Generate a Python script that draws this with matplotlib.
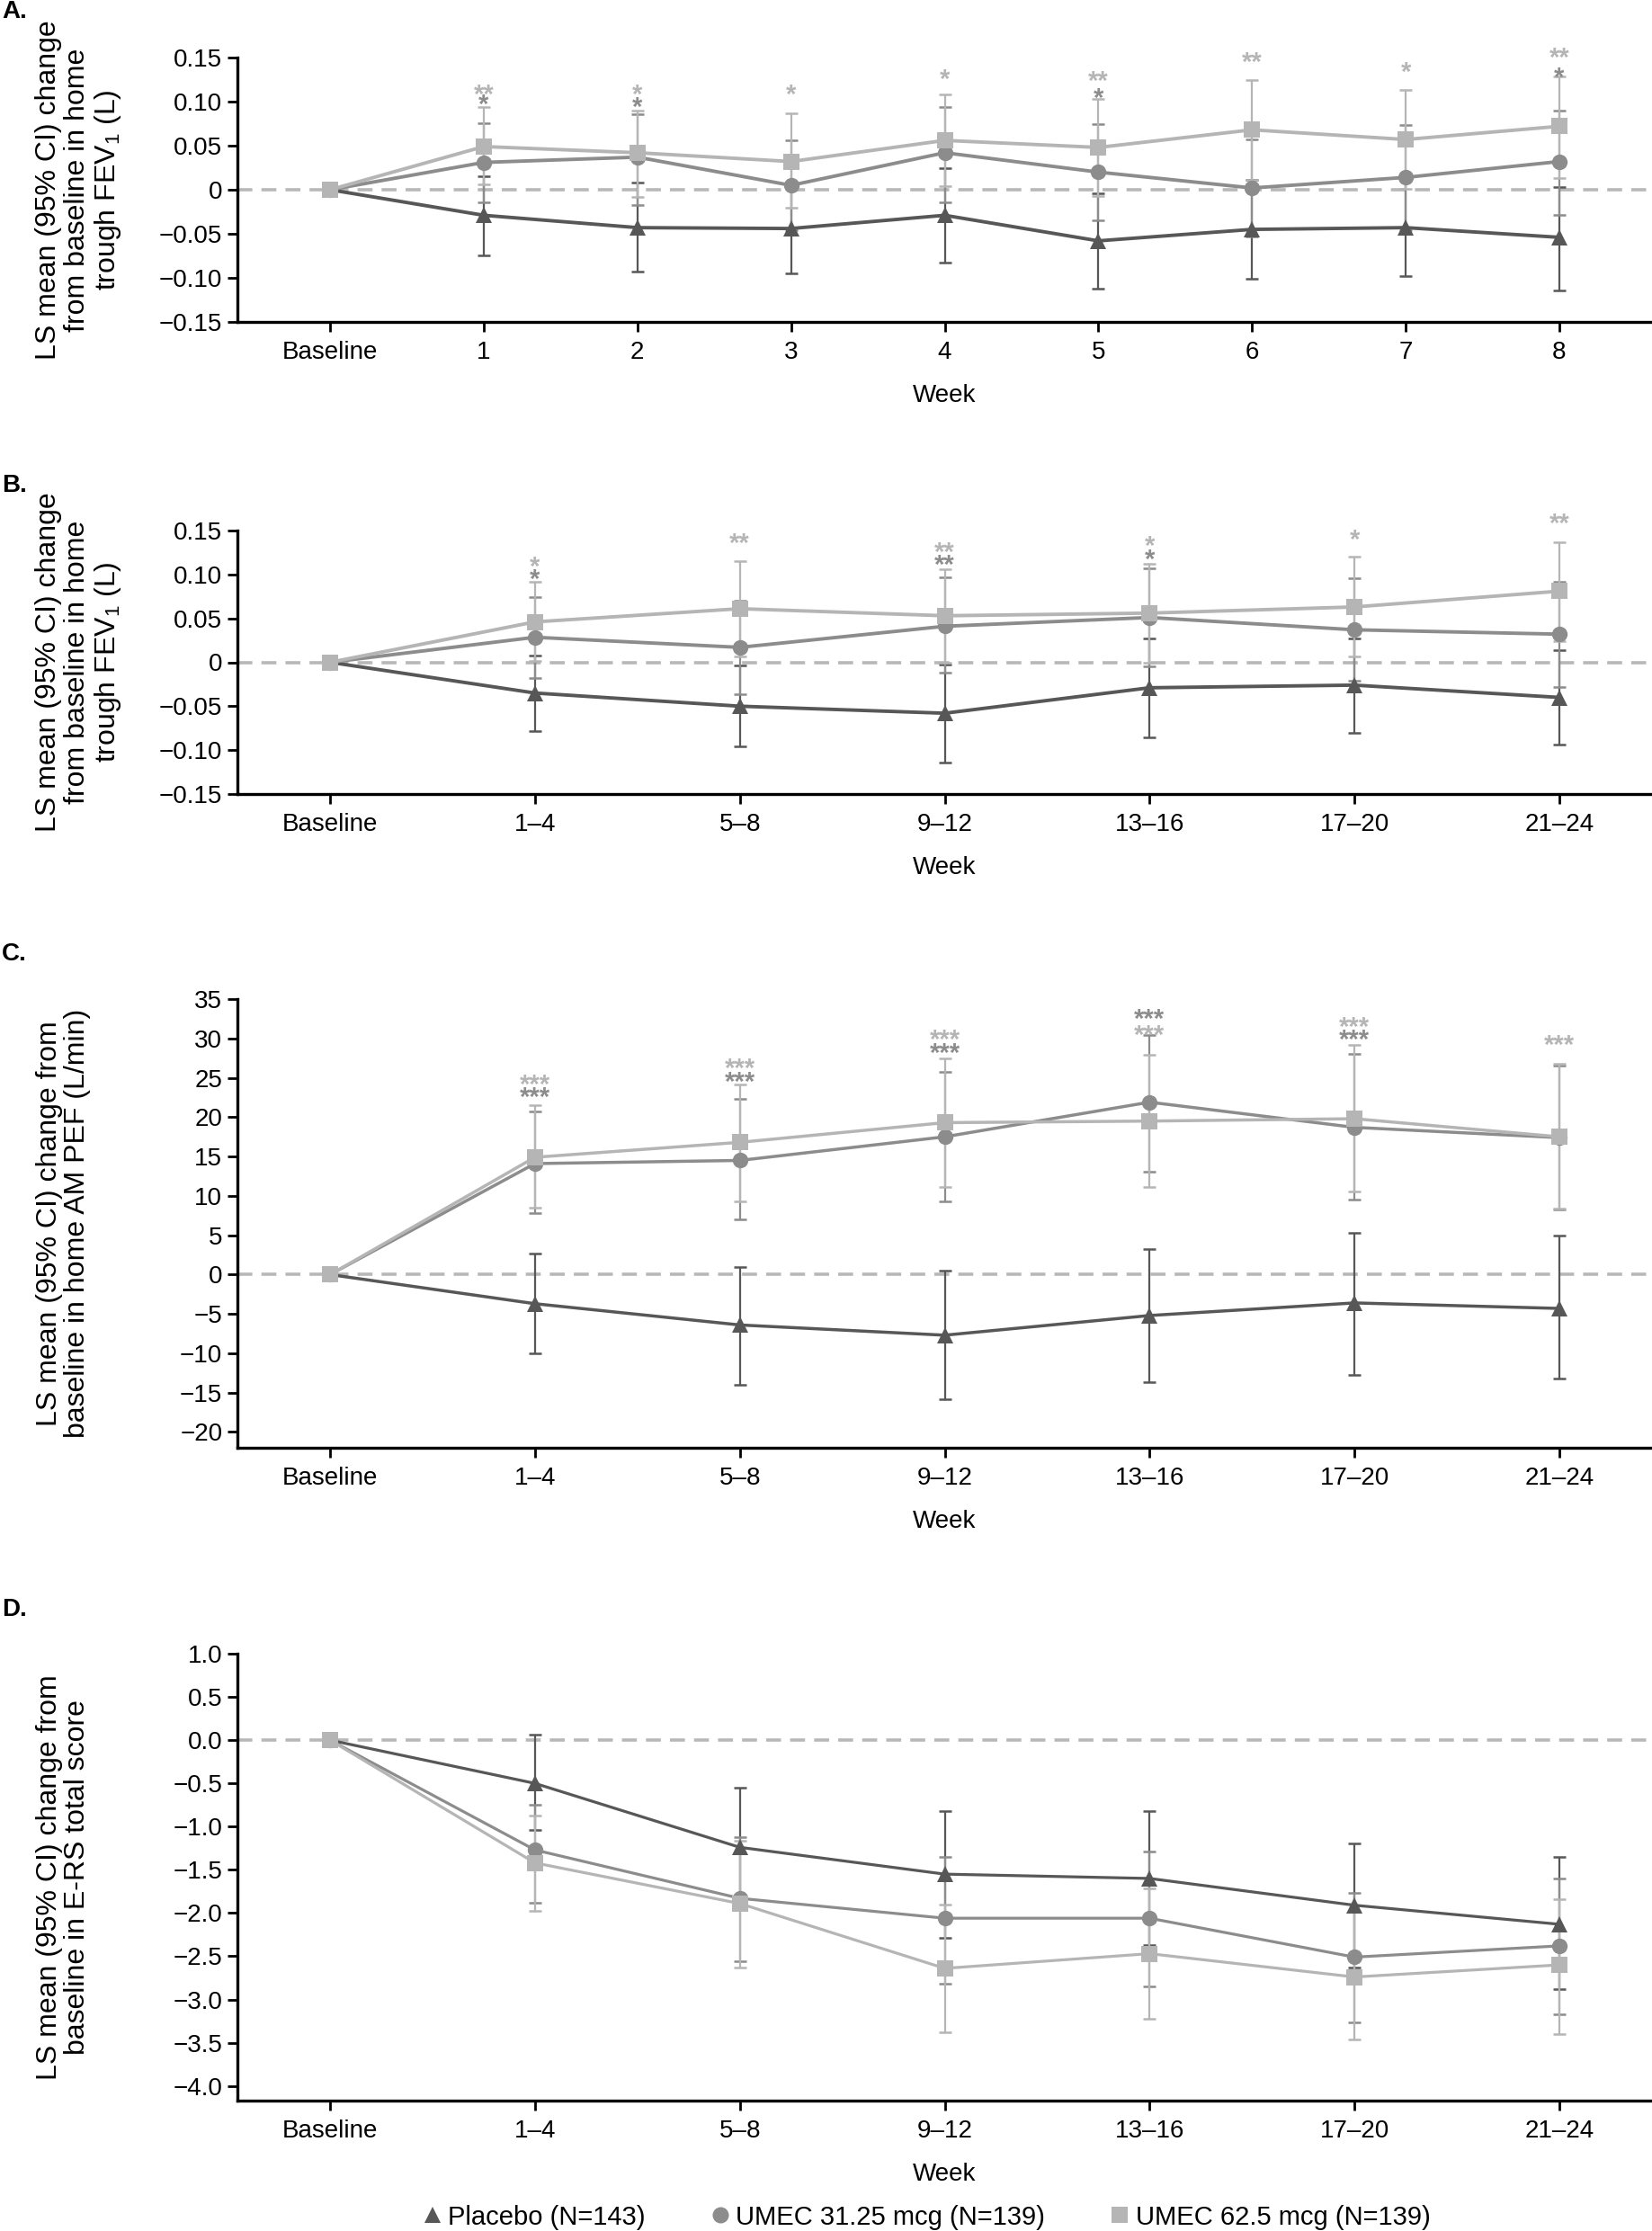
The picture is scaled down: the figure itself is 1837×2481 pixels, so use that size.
import numpy as np
import matplotlib
matplotlib.use("Agg")
import matplotlib.pyplot as plt
from matplotlib.lines import Line2D

plt.rcParams['font.family'] = ['Liberation Sans', 'DejaVu Sans']
plt.rcParams['mathtext.fontset'] = 'custom'
plt.rcParams['mathtext.rm'] = 'Liberation Sans'
plt.rcParams['mathtext.it'] = 'Liberation Sans:italic'
plt.rcParams['axes.unicode_minus'] = True

nan = np.nan

# ---------------- data ----------------
series_names = ["Placebo (N=143)", "UMEC 31.25 mcg (N=139)", "UMEC 62.5 mcg (N=139)"]

# Panel A: home trough FEV1 by week (L)
weeks_A = ["Baseline", "1", "2", "3", "4", "5", "6", "7", "8"]
A_pbo = [0, -0.029, -0.043, -0.044, -0.029, -0.058, -0.045, -0.043, -0.054]
A_pbo_lo = [nan, -0.074, -0.093, -0.095, -0.083, -0.112, -0.101, -0.098, -0.114]
A_pbo_hi = [nan, 0.015, 0.008, 0.006, 0.024, -0.004, 0.011, 0.012, 0.003]
A_u31 = [0, 0.031, 0.037, 0.005, 0.042, 0.020, 0.002, 0.014, 0.032]
A_u31_lo = [nan, -0.014, -0.017, -0.046, -0.014, -0.035, -0.053, -0.046, -0.029]
A_u31_hi = [nan, 0.076, 0.086, 0.056, 0.094, 0.075, 0.057, 0.073, 0.090]
A_u62 = [0, 0.049, 0.042, 0.032, 0.056, 0.048, 0.068, 0.057, 0.072]
A_u62_lo = [nan, 0.006, -0.008, -0.020, 0.004, -0.007, 0.011, 0.001, 0.013]
A_u62_hi = [nan, 0.094, 0.090, 0.087, 0.108, 0.103, 0.125, 0.113, 0.129]
A_star_x = [1, 1, 2, 2, 3, 4, 5, 5, 6, 7, 8, 8]
A_star_txt = ["**", "*", "*", "*", "*", "*", "**", "*", "**", "*", "**", "*"]
A_star_y = [0.116, 0.105, 0.116, 0.102, 0.116, 0.133, 0.131, 0.112, 0.153, 0.142, 0.158, 0.135]
A_star_grp = [2, 1, 2, 1, 2, 2, 2, 1, 2, 2, 2, 1]
A_yticks = [-0.15, -0.10, -0.05, 0, 0.05, 0.10, 0.15]
A_yticklabels = ["\u22120.15", "\u22120.10", "\u22120.05", "0", "0.05", "0.10", "0.15"]

# Panel B: home trough FEV1 by 4-week period (L)
weeks_B = ["Baseline", "1\u20134", "5\u20138", "9\u201312", "13\u201316", "17\u201320", "21\u201324"]
B_pbo = [0, -0.035, -0.050, -0.058, -0.029, -0.026, -0.040]
B_pbo_lo = [nan, -0.078, -0.096, -0.114, -0.085, -0.080, -0.094]
B_pbo_hi = [nan, 0.0075, -0.004, -0.003, 0.027, 0.027, 0.014]
B_u31 = [0, 0.0285, 0.017, 0.041, 0.051, 0.037, 0.032]
B_u31_lo = [nan, -0.0175, -0.036, -0.012, -0.005, -0.021, -0.028]
B_u31_hi = [nan, 0.0745, 0.070, 0.0965, 0.1075, 0.0955, 0.092]
B_u62 = [0, 0.046, 0.061, 0.053, 0.056, 0.063, 0.081]
B_u62_lo = [nan, 0.002, 0.007, 0.000, 0.000, 0.007, 0.024]
B_u62_hi = [nan, 0.0915, 0.115, 0.106, 0.112, 0.120, 0.137]
B_star_x = [1, 1, 2, 3, 3, 4, 4, 5, 6]
B_star_txt = ["*", "*", "**", "**", "**", "*", "*", "*", "**"]
B_star_y = [0.117, 0.103, 0.144, 0.133, 0.119, 0.140, 0.125, 0.1475, 0.166]
B_star_grp = [2, 1, 2, 2, 1, 2, 1, 2, 2]

# Panel C: home AM PEF (L/min)
C_pbo = [0, -3.7, -6.4, -7.7, -5.2, -3.6, -4.3]
C_pbo_lo = [nan, -10.0, -14.0, -15.8, -13.7, -12.8, -13.2]
C_pbo_hi = [nan, 2.7, 1.0, 0.5, 3.2, 5.3, 5.0]
C_u31 = [0, 14.1, 14.5, 17.5, 21.9, 18.7, 17.4]
C_u31_lo = [nan, 7.8, 7.0, 9.3, 13.1, 9.5, 8.3]
C_u31_hi = [nan, 20.7, 22.3, 25.8, 30.4, 28.0, 26.5]
C_u62 = [0, 14.9, 16.8, 19.3, 19.5, 19.8, 17.5]
C_u62_lo = [nan, 8.5, 9.3, 11.1, 11.1, 10.6, 8.35]
C_u62_hi = [nan, 21.5, 24.1, 27.5, 27.9, 29.2, 26.8]
C_star_x = [1, 1, 2, 2, 3, 3, 4, 4, 5, 5, 6]
C_star_txt = ["***"] * 11
C_star_y = [25.0, 23.4, 27.1, 25.4, 30.7, 29.0, 31.3, 33.4, 32.3, 30.7, 30.0]
C_star_grp = [2, 1, 2, 1, 2, 1, 2, 1, 2, 1, 2]
C_yticks = [-20, -15, -10, -5, 0, 5, 10, 15, 20, 25, 30, 35]
C_yticklabels = ["\u221220", "\u221215", "\u221210", "\u22125", "0", "5", "10", "15", "20", "25", "30", "35"]

# Panel D: E-RS total score
D_pbo = [0, -0.50, -1.24, -1.55, -1.60, -1.91, -2.13]
D_pbo_lo = [nan, -1.04, -1.93, -2.29, -2.37, -2.63, -2.88]
D_pbo_hi = [nan, 0.06, -0.55, -0.82, -0.82, -1.19, -1.35]
D_u31 = [0, -1.27, -1.83, -2.06, -2.06, -2.51, -2.38]
D_u31_lo = [nan, -1.88, -2.56, -2.82, -2.85, -3.26, -3.17]
D_u31_hi = [nan, -0.75, -1.12, -1.35, -1.29, -1.77, -1.60]
D_u62 = [0, -1.42, -1.89, -2.64, -2.47, -2.74, -2.60]
D_u62_lo = [nan, -1.97, -2.63, -3.38, -3.22, -3.46, -3.40]
D_u62_hi = [nan, -0.87, -1.16, -1.90, -1.72, -1.98, -1.84]
D_star_x = [1, 3]
D_star_txt = ["*", "*"]
D_star_y = [-0.49, -1.55]
D_star_grp = [2, 2]
D_yticks = [-4.0, -3.5, -3.0, -2.5, -2.0, -1.5, -1.0, -0.5, 0.0, 0.5, 1.0]
D_yticklabels = ["\u22124.0", "\u22123.5", "\u22123.0", "\u22122.5", "\u22122.0", "\u22121.5",
                 "\u22121.0", "\u22120.5", "0.0", "0.5", "1.0"]

# ---------------- style ----------------
colors = ["#575757", "#8c8c8c", "#b5b5b5"]
markers = ["^", "o", "s"]
FS = 20
FS_YLAB = 23
FS_STAR = 21
W, H = 1837, 2481

fig = plt.figure(figsize=(W / 100, H / 100), dpi=100)


def add_ax(top_px, bottom_px):
    left = 264 / W
    return fig.add_axes([left, 1 - bottom_px / H, 1 - left, (bottom_px - top_px) / H])


def draw_panel(ax, labels, series, stars, ylim, yticks, yticklabels, ylabel, ylabel_x, lw,
               star_z=20):
    x = np.arange(len(labels))
    ax.axhline(0, color="#b8b8b8", lw=2.6, dashes=(4.6, 2.8), zorder=1)
    for i, (m, lo, hi) in enumerate(series):
        m = np.asarray(m, float)
        lo = np.asarray(lo, float)
        hi = np.asarray(hi, float)
        ok = ~np.isnan(lo)
        ax.errorbar(x[ok], m[ok], yerr=[m[ok] - lo[ok], hi[ok] - m[ok]], fmt="none",
                    ecolor=colors[i], elinewidth=1.6, capsize=4.7, capthick=1.8, zorder=2 + i)
        ax.plot(x, m, color=colors[i], lw=lw, marker=markers[i], markersize=12.5,
                markeredgewidth=0, zorder=5 + i)
    if stars is not None:
        sx, st, sy, sg = stars
        for xx, tt, yy, gg in zip(sx, st, sy, sg):
            ax.annotate(tt, xy=(xx, yy), xytext=(0, -0.57 * FS_STAR), textcoords="offset points",
                        ha="center", va="baseline", fontsize=FS_STAR, fontweight="bold",
                        color=colors[gg], annotation_clip=False, zorder=star_z)
    pad = 0.452 if len(labels) == 7 else 0.603
    ax.set_xlim(-pad, (len(labels) - 1) + pad)
    ax.set_ylim(*ylim)
    ax.set_xticks(x)
    ax.set_xticklabels(labels, fontsize=FS)
    ax.set_yticks(yticks)
    ax.set_yticklabels(yticklabels, fontsize=FS)
    for s in ["top", "right"]:
        ax.spines[s].set_visible(False)
    for s in ["left", "bottom"]:
        ax.spines[s].set_linewidth(2.4)
    ax.tick_params(axis="both", direction="out", length=8, width=2.0, colors="black")
    ax.tick_params(axis="x", pad=7)
    ax.tick_params(axis="y", pad=4)
    ax.set_xlabel("Week", fontsize=FS, labelpad=16)
    ax.set_ylabel(ylabel, fontsize=FS_YLAB, va="center", ha="center", linespacing=1.08)
    ax.yaxis.set_label_coords(ylabel_x, 0.5)


fev_label = "LS mean (95% CI) change\nfrom baseline in home\ntrough FEV$_\\mathregular{1}$ (L)"

axA = add_ax(64, 358)
draw_panel(axA, weeks_A,
           [(A_pbo, A_pbo_lo, A_pbo_hi), (A_u31, A_u31_lo, A_u31_hi), (A_u62, A_u62_lo, A_u62_hi)],
           (A_star_x, A_star_txt, A_star_y, A_star_grp), (-0.15, 0.15), A_yticks, A_yticklabels,
           fev_label, -0.112, 2.8)

axB = add_ax(590, 883)
draw_panel(axB, weeks_B,
           [(B_pbo, B_pbo_lo, B_pbo_hi), (B_u31, B_u31_lo, B_u31_hi), (B_u62, B_u62_lo, B_u62_hi)],
           (B_star_x, B_star_txt, B_star_y, B_star_grp), (-0.15, 0.15), A_yticks, A_yticklabels,
           fev_label, -0.112, 2.8)

axC = add_ax(1111, 1610)
draw_panel(axC, weeks_B,
           [(C_pbo, C_pbo_lo, C_pbo_hi), (C_u31, C_u31_lo, C_u31_hi), (C_u62, C_u62_lo, C_u62_hi)],
           (C_star_x, C_star_txt, C_star_y, C_star_grp), (-22, 35), C_yticks, C_yticklabels,
           "LS mean (95% CI) change from\nbaseline in home AM PEF (L/min)", -0.123, 2.5)

axD = add_ax(1839, 2336)
draw_panel(axD, weeks_B,
           [(D_pbo, D_pbo_lo, D_pbo_hi), (D_u31, D_u31_lo, D_u31_hi), (D_u62, D_u62_lo, D_u62_hi)],
           (D_star_x, D_star_txt, D_star_y, D_star_grp), (-4.17, 1.0), D_yticks, D_yticklabels,
           "LS mean (95% CI) change from\nbaseline in E-RS total score", -0.123, 2.3, star_z=4.5)

for lab, ypx in [("A.", 13), ("B.", 540), ("C.", 1061), ("D.", 1790)]:
    fig.text(2 / W, 1 - ypx / H, lab, fontsize=FS, fontweight="bold", ha="left", va="center")

handles = [Line2D([], [], linestyle="none", marker=markers[i], color=colors[i], markersize=13,
                  markeredgewidth=0) for i in range(3)]
fig.legend(handles, series_names, loc="center", bbox_to_anchor=(0.561, 0.0062), ncol=3,
           frameon=False, fontsize=21, handlelength=0.7, handletextpad=0.25,
           columnspacing=2.5, borderpad=0, borderaxespad=0)

fig.savefig("out.png", dpi=100)
